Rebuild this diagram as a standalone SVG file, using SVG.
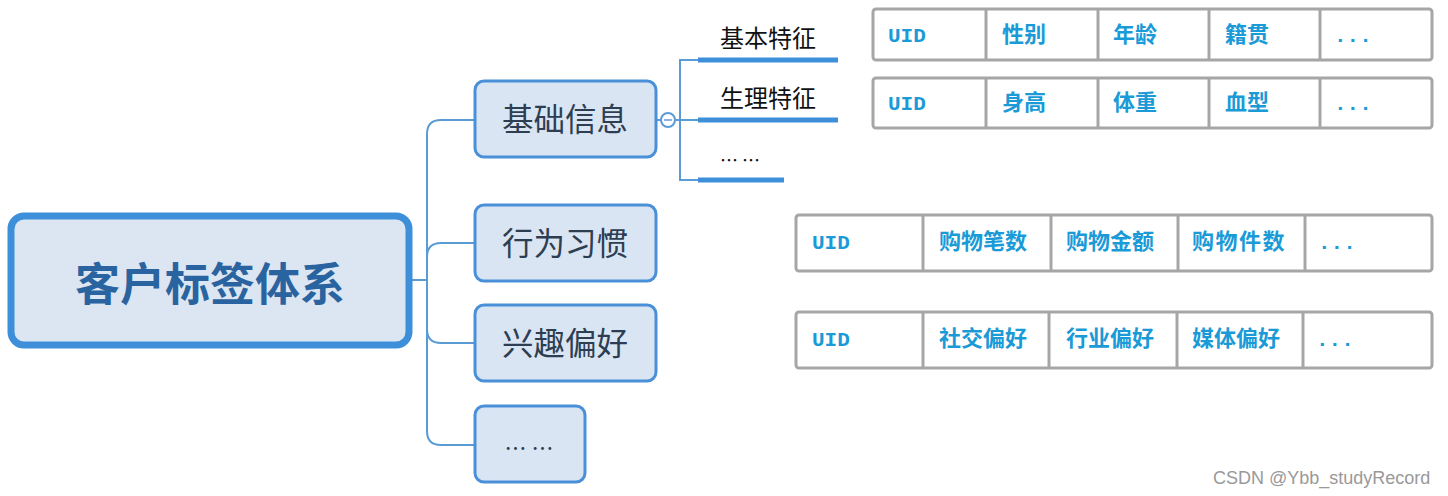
<svg xmlns="http://www.w3.org/2000/svg" width="1448" height="496" viewBox="0 0 1448 496">
<style>
.node{fill:#dae5f3;stroke:#4a90d9;stroke-width:3}
.root{fill:#dce6f2;stroke:#3d8fd9;stroke-width:7}
.conn{fill:none;stroke:#5b9bd5;stroke-width:2}
.ul{stroke:#3d8fd9;stroke-width:5}
.tbl{fill:#fff;stroke:#a6a6a6;stroke-width:3}
.div{stroke:#a6a6a6;stroke-width:3}
.ct{font-family:"Noto Sans CJK SC","Noto Sans",sans-serif;fill:#2e3e52;font-size:31.5px;text-anchor:middle}
.rt{font-family:"Noto Sans CJK SC","Noto Sans",sans-serif;fill:#2a64a0;font-size:45px;font-weight:bold;text-anchor:middle}
.st{font-family:"Noto Sans CJK SC","Noto Sans",sans-serif;fill:#111;font-size:24px;text-anchor:middle}
.tc{font-family:"Noto Sans CJK SC","Noto Sans",sans-serif;fill:#1a9ad6;font-size:22px;font-weight:bold}
.tm{font-family:"Liberation Mono",monospace;fill:#1a9ad6;font-size:21px;font-weight:bold}
.wm{font-family:"Liberation Sans",Arial,sans-serif;fill:#999;font-size:18px}
</style>
<g id="connectors">
<path class="conn" d="M412,280 H427"/>
<path class="conn" d="M474,120 H441 Q427,120 427,134 V431 Q427,445 441,445 H474"/>
<path class="conn" d="M427,257 Q427,243 441,243 H474"/>
<path class="conn" d="M427,329 Q427,343 441,343 H474"/>
<path class="conn" d="M657,120 H661"/>
<circle cx="668" cy="120" r="7" fill="#fff" stroke="#5b9bd5" stroke-width="2"/>
<line x1="664" y1="120" x2="672" y2="120" stroke="#5b9bd5" stroke-width="1.5"/>
<path class="conn" d="M675,120 H698"/>
<path class="conn" d="M698,60 H680 V180 H698"/>
</g>
<g id="root">
<rect class="root" x="11" y="216" width="398" height="129" rx="13"/>
<text class="rt" x="210" y="301">客户标签体系</text>
</g>
<g id="n-jichu">
<rect class="node" x="475" y="81" width="181" height="76" rx="9"/>
<text class="ct" x="565" y="131">基础信息</text>
</g>
<g id="n-xingwei">
<rect class="node" x="475" y="205" width="181" height="76" rx="9"/>
<text class="ct" x="565" y="255">行为习惯</text>
</g>
<g id="n-xingqu">
<rect class="node" x="475" y="305" width="181" height="76" rx="9"/>
<text class="ct" x="565" y="355">兴趣偏好</text>
</g>
<g id="n-more">
<rect class="node" x="475" y="406" width="110" height="76" rx="9"/>
<text class="ct" x="529" y="456" style="font-size:22px">… …</text>
</g>
<g id="s-jiben">
<line class="ul" x1="698" y1="60" x2="838" y2="60"/>
<text class="st" x="768" y="47">基本特征</text>
</g>
<g id="s-shengli">
<line class="ul" x1="698" y1="120" x2="838" y2="120"/>
<text class="st" x="768" y="107">生理特征</text>
</g>
<g id="s-more">
<line class="ul" x1="698" y1="180" x2="784" y2="180"/>
<text class="st" x="740" y="167" style="font-size:18px">… …</text>
</g>
<g id="t-jiben">
<rect class="tbl" x="873" y="9" width="559" height="51" rx="3"/>
<line class="div" x1="986" y1="9" x2="986" y2="60"/>
<line class="div" x1="1098" y1="9" x2="1098" y2="60"/>
<line class="div" x1="1209" y1="9" x2="1209" y2="60"/>
<line class="div" x1="1320" y1="9" x2="1320" y2="60"/>
<text class="tm" x="888" y="42">UID</text>
<text class="tc" x="1002" y="42">性别</text>
<text class="tc" x="1113" y="42">年龄</text>
<text class="tc" x="1225" y="42">籍贯</text>
<text class="tm" x="1334" y="42">...</text>
</g>
<g id="t-shengli">
<rect class="tbl" x="873" y="78" width="559" height="50" rx="3"/>
<line class="div" x1="986" y1="78" x2="986" y2="128"/>
<line class="div" x1="1098" y1="78" x2="1098" y2="128"/>
<line class="div" x1="1209" y1="78" x2="1209" y2="128"/>
<line class="div" x1="1320" y1="78" x2="1320" y2="128"/>
<text class="tm" x="888" y="110">UID</text>
<text class="tc" x="1002" y="110">身高</text>
<text class="tc" x="1113" y="110">体重</text>
<text class="tc" x="1225" y="110">血型</text>
<text class="tm" x="1334" y="110">...</text>
</g>
<g id="t-xingwei">
<rect class="tbl" x="796" y="215" width="636" height="56" rx="3"/>
<line class="div" x1="923" y1="215" x2="923" y2="271"/>
<line class="div" x1="1051" y1="215" x2="1051" y2="271"/>
<line class="div" x1="1178" y1="215" x2="1178" y2="271"/>
<line class="div" x1="1305" y1="215" x2="1305" y2="271"/>
<text class="tm" x="812" y="249">UID</text>
<text class="tc" x="939" y="249">购物笔数</text>
<text class="tc" x="1066" y="249">购物金额</text>
<text class="tc" x="1192" y="249" letter-spacing="1.5">购物件数</text>
<text class="tm" x="1318" y="249">...</text>
</g>
<g id="t-xingqu">
<rect class="tbl" x="796" y="312" width="636" height="56" rx="3"/>
<line class="div" x1="923" y1="312" x2="923" y2="368"/>
<line class="div" x1="1049" y1="312" x2="1049" y2="368"/>
<line class="div" x1="1177" y1="312" x2="1177" y2="368"/>
<line class="div" x1="1303" y1="312" x2="1303" y2="368"/>
<text class="tm" x="812" y="346">UID</text>
<text class="tc" x="939" y="346">社交偏好</text>
<text class="tc" x="1066" y="346">行业偏好</text>
<text class="tc" x="1192" y="346">媒体偏好</text>
<text class="tm" x="1316" y="346">...</text>
</g>
<text class="wm" x="1213" y="484">CSDN @Ybb_studyRecord</text>
</svg>
